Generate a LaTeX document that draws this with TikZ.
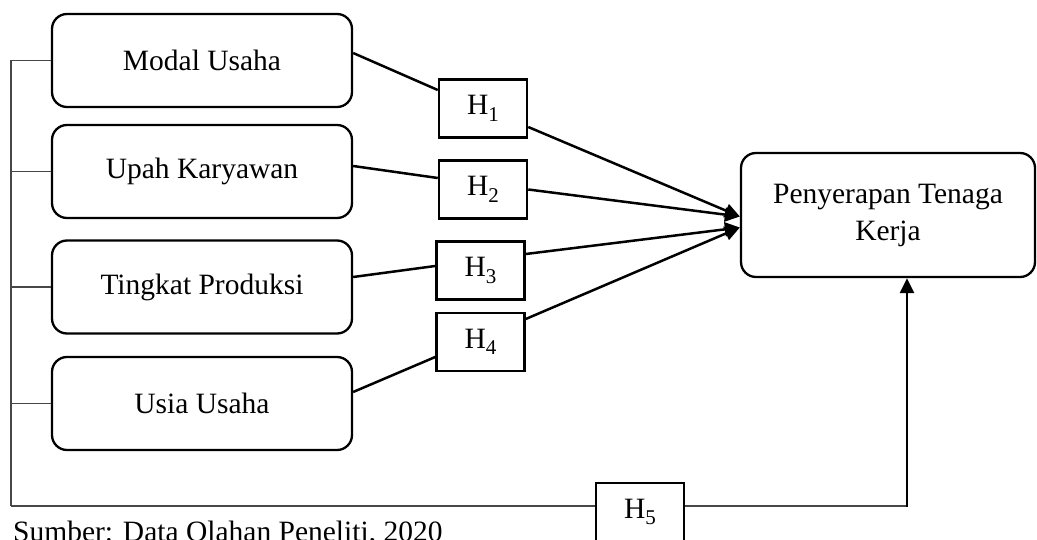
\documentclass[tikz,border=0pt]{standalone}
\usepackage{fontspec}
\setmainfont{Liberation Serif}
\usetikzlibrary{arrows.meta,calc}
\newcommand{\hsub}[1]{H\raisebox{-0.22em}{\fontsize{21}{21}\selectfont #1}}
\tikzset{
  varbox/.style={draw=black, line width=2.3pt, rounded corners=15pt, minimum width=300pt, minimum height=93pt, inner sep=0pt, font=\fontsize{29.5}{37}\selectfont},
  hbox/.style={draw=black, line width=2.5pt, minimum width=88pt, minimum height=58pt, inner sep=0pt, font=\fontsize{29.5}{37}\selectfont},
  tgtbox/.style={draw=black, line width=2.3pt, rounded corners=15pt, minimum width=294pt, minimum height=124pt, inner sep=0pt, align=center, font=\fontsize{29.5}{37}\selectfont},
  conn/.style={draw=black, line width=2.5pt},
  arr/.style={conn, -{Triangle[length=15pt,width=14pt]}},
  graylink/.style={draw=black!72, line width=1.3pt}
}
\begin{document}
\begin{tikzpicture}[x=1pt,y=-1pt]
\useasboundingbox (0,0) rectangle (1037,540);
% variable boxes
\node[varbox] (modal) at (202,60.5) {Modal Usaha};
\node[varbox] (upah) at (202,171.5) {Upah Karyawan};
\node[varbox] (tingkat) at (202,287) {Tingkat Produksi};
\node[varbox] (usia) at (202,403.5) {Usia Usaha};
% hypothesis boxes
\node[hbox] (h1) at (483,108.5) {\hsub{1}};
\node[hbox] (h2) at (483,189.5) {\hsub{2}};
\node[hbox] (h3) at (480.5,270.5) {\hsub{3}};
\node[hbox] (h4) at (480.5,342) {\hsub{4}};
\node[hbox] (h5) at (640,512) {\hsub{5}};
% target
\node[tgtbox] (target) at (888,215) {Penyerapan Tenaga\\Kerja};
% connectors to H boxes
\draw[conn] ($(modal.east)+(0,-7.5)$) -- ($(h1.west)+(0,-18.5)$);
\draw[conn] ($(upah.east)+(0,-5.5)$) -- ($(h2.west)+(0,-11.5)$);
\draw[conn] ($(tingkat.east)+(0,-10)$) -- ($(h3.west)+(0,-4.5)$);
\draw[conn] ($(usia.east)+(0,-11.5)$) -- ($(h4.west)+(0,15)$);
% arrows to target
\draw[arr] ($(h1.east)+(0,18.5)$) -- ($(target.west)+(0,1.5)$);
\draw[arr] (h2.east) -- ($(target.west)+(0,1.5)$);
\draw[arr] ($(h3.east)+(0,-16.5)$) -- ($(target.west)+(0,12.5)$);
\draw[arr] ($(h4.east)+(0,-23)$) -- ($(target.west)+(0,12.5)$);
% left bracket and bottom path
\coordinate (tl) at (11,60.5);
\coordinate (bl) at (11,506);
\coordinate (turn) at (907,506);
\draw[graylink] (tl) -- (bl);
\draw[graylink] (modal.west) -- (modal.west -| bl);
\draw[graylink] (upah.west) -- (upah.west -| bl);
\draw[graylink] (tingkat.west) -- (tingkat.west -| bl);
\draw[graylink] (usia.west) -- (usia.west -| bl);
\draw[graylink] (bl) -- (bl -| h5.west);
\draw[graylink] (bl -| h5.east) -- (turn);
\draw[arr, line cap=rect] (turn) -- (turn |- target.south);
% caption
\node[anchor=base west, inner sep=0pt, font=\fontsize{29.5}{37}\selectfont] (cap) at (13,541) {Sumber: Data Olahan Peneliti, 2020};
\end{tikzpicture}
\end{document}
